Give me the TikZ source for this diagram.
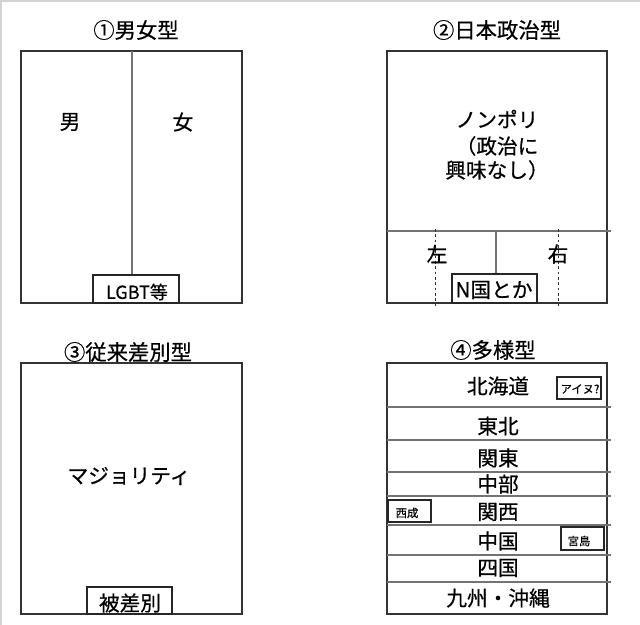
\documentclass[tikz,border=0pt]{standalone}
\usepackage{fontspec}
\setmainfont{Noto Sans CJK JP}[FakeBold=0.6]
\newfontfamily\jpheavy{Noto Sans CJK JP}[FakeBold=0.6]
\tikzset{
  frame/.style={draw=black!80, line width=1.3},
  rule/.style={draw=black!55, line width=0.9},
  tagbox/.style={draw=black!85, line width=1.1, fill=white},
  title/.style={inner sep=0.75pt, font=\jpheavy\fontsize{16}{18}\selectfont},
  label/.style={inner sep=0.75pt, font=\jpheavy\fontsize{15.5}{18}\selectfont},
  tag/.style={inner sep=0.75pt, font=\jpheavy\fontsize{8.5}{10}\selectfont},
}
\begin{document}
\begin{tikzpicture}[x=0.75pt,y=0.75pt,yscale=-1,xscale=1]
        \path [use as bounding box] (0,0) rectangle (640,625);
        %Straight Lines: screenshot edges
        \draw [gray!35, line width=1.5] (1,625) -- (1,1) -- (640,1) ;

        %Shape: panel 1
        \draw [frame] (21,51) rectangle (242,303) ;
        \draw [rule] (132,51) -- (132,275) ;
        \draw [tagbox] (93,275) rectangle (179,303) ;
        % Text Node
        \node [title] (t1) at (136,30) {①男女型};
        \node [label] (men) at (70,122) {男};
        \node [label] (women) at (183,122) {女};
        \node [label, font=\jpheavy\fontsize{13.5}{16}\selectfont] (lgbt) at (137,292) {LGBT等};

        %Shape: panel 2
        \draw [frame] (387,51) rectangle (607,303) ;
        \draw [rule] (387,231) -- (611,231) ;
        \draw [rule] (496,231) -- (496,274) ;
        \draw [black!80, line width=0.7, dash pattern={on 2pt off 2pt}] (435,229) -- (435,306) ;
        \draw [black!80, line width=0.7, dash pattern={on 2pt off 2pt}] (558,229) -- (558,306) ;
        \draw [tagbox] (452,274) rectangle (537,303) ;
        % Text Node
        \node [title] (t2) at (497,30) {②日本政治型};
        \node [label] (nonpori) at (497,119) {ノンポリ};
        \node [label] (seiji) at (497,146) {（政治に};
        \node [label] (kyomi) at (497,170) {興味なし）};
        \node [label] (left) at (437,254) {左};
        \node [label] (right) at (558,254) {右};
        \node [label] (nkoku) at (494,290) {N国とか};

        %Shape: panel 3
        \draw [frame] (21,363) rectangle (242,614) ;
        \draw [tagbox] (87,587) rectangle (172,614) ;
        % Text Node
        \node [title] (t3) at (128,352) {③従来差別型};
        \node [label] (major) at (129,476) {マジョリティ};
        \node [label] (hisabetsu) at (130,603) {被差別};

        %Shape: panel 4
        \draw [frame] (387,363) rectangle (607,614) ;
        \foreach \y in {407,440,472,496,525,555,582}
          \draw [rule] (387,\y) -- (611,\y) ;
        % Text Node
        \node [title] (t4) at (493,350) {④多様型};
        \foreach \nm/\y/\txt in {hokkaido/386/北海道, tohoku/426/東北, kanto/458/関東,
            chubu/484/中部, kansai/512/関西, chugoku/541/中国, shikoku/568/四国, kyushu/598/九州・沖縄}
          \node [label] (\nm) at (498,\y) {\txt};
        \draw [tagbox] (557,377) rectangle (601,399) ;
        \node [tag] (ainu) at (580,389) {アイヌ?};
        \draw [tagbox] (388,500) rectangle (431,522) ;
        \node [tag] (nishinari) at (407,513) {西成};
        \draw [tagbox] (561,527) rectangle (604,550) ;
        \node [tag] (miyajima) at (579,541) {宮島};
\end{tikzpicture}
\end{document}
